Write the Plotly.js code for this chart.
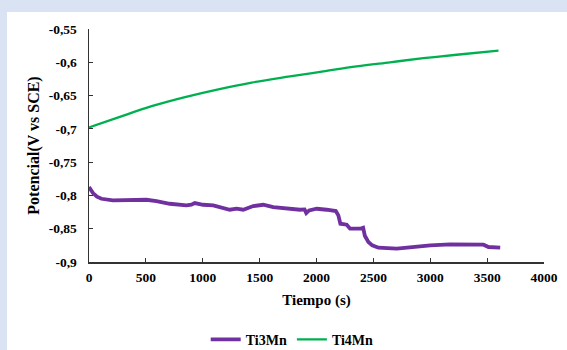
<!DOCTYPE html>
<html><head><meta charset="utf-8">
<script src="https://cdn.plot.ly/plotly-3.0.1.min.js"></script>
<style>
html,body{margin:0;padding:0;background:#dae3f3;width:567px;height:350px;overflow:hidden}
#panel{position:absolute;left:7px;top:12px;width:560px;height:338px;background:#ffffff}
#chart{position:absolute;left:0;top:0;width:567px;height:350px}
</style></head><body>
<div id="panel"></div><div id="chart"></div>
<script>
const ti3mnTime = [0,35,70,110,210,350,505,593,710,857,900,930,1003,1092,1238,1297,1356,1444,1532,1620,1737,1855,1895,1910,1935,2002,2090,2170,2192,2210,2266,2295,2383,2410,2425,2456,2490,2544,2706,2882,3000,3175,3350,3468,3512,3615];
const ti3mnPot = [-0.7875,-0.7965,-0.802,-0.805,-0.8075,-0.807,-0.8065,-0.8085,-0.8125,-0.815,-0.814,-0.8115,-0.814,-0.815,-0.8215,-0.820,-0.8215,-0.816,-0.814,-0.8175,-0.820,-0.8215,-0.821,-0.8265,-0.8225,-0.820,-0.8215,-0.8235,-0.830,-0.8425,-0.844,-0.850,-0.850,-0.8485,-0.8605,-0.870,-0.875,-0.8785,-0.880,-0.8765,-0.875,-0.8735,-0.874,-0.874,-0.8775,-0.8785];
const ti4mnTime = [0,258,551,844,1137,1430,1767,2060,2353,2646,2939,3232,3600];
const ti4mnPot = [-0.698,-0.6828,-0.666,-0.6523,-0.6406,-0.6305,-0.6213,-0.6137,-0.6061,-0.600,-0.5939,-0.5887,-0.5826];
const yTickVals = [-0.9,-0.85,-0.8,-0.75,-0.7,-0.65,-0.6,-0.55];
const yTickText = ["-0,9","-0,85","-0,8","-0,75","-0,7","-0,65","-0,6","-0,55"];
const xTickVals = [0,500,1000,1500,2000,2500,3000,3500,4000];
const xTickText = ["0","500","1000","1500","2000","2500","3000","3500","4000"];
const seriesNames = ["Ti3Mn","Ti4Mn"];

const fontFam = "'Liberation Serif', 'Times New Roman', serif";
const data = [
  {x: ti3mnTime, y: ti3mnPot, name: seriesNames[0], type: 'scatter', mode: 'lines',
   line: {color: '#7030a0', width: 3.8, shape: 'linear'}},
  {x: ti4mnTime, y: ti4mnPot, name: seriesNames[1], type: 'scatter', mode: 'lines',
   line: {color: '#00b050', width: 2.3, shape: 'spline', smoothing: 1}}
];
const layout = {
  width: 567, height: 350,
  margin: {l: 89, r: 23, t: 29, b: 88, pad: 0},
  paper_bgcolor: 'rgba(0,0,0,0)', plot_bgcolor: 'rgba(0,0,0,0)',
  font: {family: fontFam, color: '#000', size: 13.5, weight: 'bold'},
  showlegend: true,
  legend: {orientation: 'h', x: 0.3628, xref: 'container', xanchor: 'left', y: 0.029, yref: 'container', yanchor: 'middle',
    font: {family: fontFam, size: 14, weight: 'bold', color: '#000'}, bgcolor: 'rgba(0,0,0,0)', itemwidth: 30},
  xaxis: {range: [0, 4000], tickvals: xTickVals, ticktext: xTickText, ticks: 'inside', ticklen: 4, automargin: false,
    tickcolor: '#333', showline: true, linecolor: '#333', linewidth: 1.5, showgrid: false, zeroline: false,
    tickfont: {family: fontFam, size: 13.5, weight: 'bold'}, ticklabelstandoff: 2,
    title: {text: 'Tiempo (s)', font: {family: fontFam, size: 15, weight: 'bold'}, standoff: 11}},
  yaxis: {range: [-0.9, -0.55], tickvals: yTickVals, ticktext: yTickText, ticks: 'inside', ticklen: 4, automargin: false,
    tickcolor: '#333', showline: true, linecolor: '#333', linewidth: 1.5, showgrid: false, zeroline: false,
    tickfont: {family: fontFam, size: 13.5, weight: 'bold'}, ticklabelstandoff: 8,
    title: {text: 'Potencial(V vs SCE)', font: {family: fontFam, size: 16, weight: 'bold'}, standoff: 5}}
};
Plotly.newPlot('chart', data, layout, {displayModeBar: false, staticPlot: true});
</script>
</body></html>
